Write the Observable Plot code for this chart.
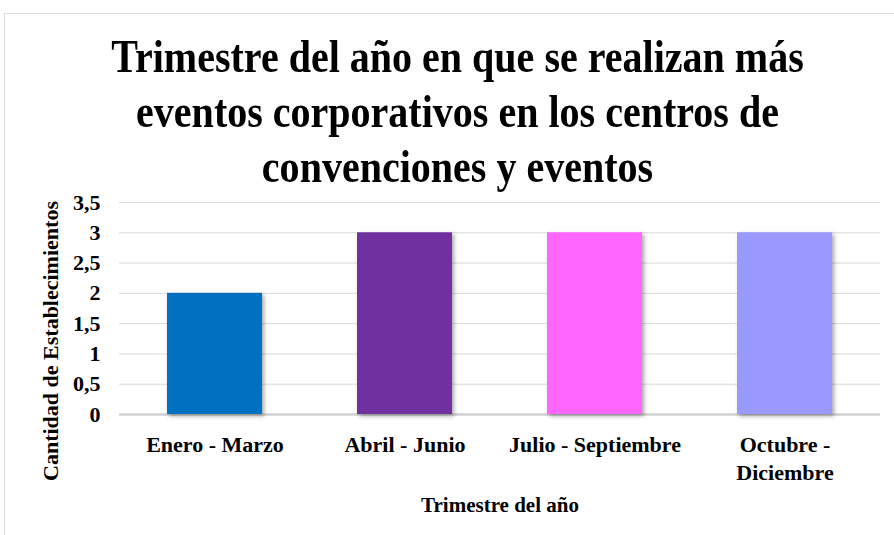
<!DOCTYPE html>
<html>
<head>
<meta charset="utf-8">
<script src="https://cdn.jsdelivr.net/npm/d3@7"></script>
<script src="https://cdn.jsdelivr.net/npm/@observablehq/plot@0.6"></script>
<style>
  html, body { margin: 0; padding: 0; background: #fff; width: 894px; height: 535px; overflow: hidden; }
  #wrap { position: relative; width: 894px; height: 535px; font-family: "Liberation Serif", "Times New Roman", serif; }
  #border { position: absolute; left: 4px; top: 13px; width: 920px; height: 600px; border: 1px solid #d9d9d9; box-sizing: border-box; }
  #title { position: absolute; left: 0; top: 29px; width: 915px; text-align: center; font-size: 46px; line-height: 55px; font-weight: bold; color: #000; margin: 0; transform: scaleX(0.87); transform-origin: 457.5px 0; }
  #ylabel { position: absolute; left: 51px; top: 341px; width: 0; height: 0; }
  #ylabel span { position: absolute; left: 0; top: 0; transform: translate(-50%, -50%) rotate(-90deg); white-space: nowrap; font-size: 22px; line-height: 22px; font-weight: bold; color: #000; }
  #chart { position: absolute; left: 0; top: 190px; }
</style>
</head>
<body>
<div id="wrap">
  <div id="border"></div>
  <h1 id="title">Trimestre del año en que se realizan más<br>eventos corporativos en los centros de<br>convenciones y eventos</h1>
  <div id="chart"></div>
  <div id="ylabel"><span id="ylabelText"></span></div>
</div>
<script>
const categories = ["Enero - Marzo", "Abril - Junio", "Julio - Septiembre", "Octubre -\nDiciembre"];
const values = [2, 3, 3, 3];
const colors = ["#0070C0", "#7030A0", "#FF66FF", "#9999FF"];
const yTicks = [0, 0.5, 1, 1.5, 2, 2.5, 3, 3.5];
const xTitle = "Trimestre del año";
const yTitle = "Cantidad de Establecimientos";

const data = categories.map((c, i) => ({cat: c, value: values[i]}));
const fmt = d => String(d).replace(".", ",");
const font = "Liberation Serif, Times New Roman, serif";

document.getElementById("ylabelText").textContent = yTitle;

const chart = Plot.plot({
  width: 894,
  height: 345,
  marginTop: 12,
  marginBottom: 121,
  marginLeft: 119,
  marginRight: 14,
  style: {fontFamily: font, background: "transparent", overflow: "visible"},
  x: {domain: categories, paddingInner: 0.5, paddingOuter: 0.25, axis: null},
  y: {domain: [0, 3.5], axis: null},
  color: {domain: categories, range: colors},
  marks: [
    Plot.ruleY(yTicks.filter(d => d > 0), {y: d => d, stroke: "#d9d9d9", strokeWidth: 1}),
    Plot.ruleY([0], {stroke: "#d0d0d0", strokeWidth: 2.5}),
    Plot.barY(data, {x: "cat", y: "value", fill: "cat"}),
    Plot.axisY(yTicks, {tickSize: 0, tickPadding: 19, tickFormat: fmt, fontSize: 22, fontWeight: "bold", fill: "#000", label: null}),
    Plot.text(categories, {x: d => d, frameAnchor: "bottom", lineAnchor: "top", dy: 18, lineHeight: 1.25, fontSize: 22, fontWeight: "bold", fill: "#000"}),
    Plot.text([xTitle], {frameAnchor: "bottom", lineAnchor: "bottom", dy: 97, fontSize: 21, fontWeight: "bold", fill: "#000"})
  ]
});
document.getElementById("chart").appendChild(chart);
const barG = chart.querySelector('g[aria-label="bar"]');
if (barG) barG.style.filter = "drop-shadow(2px 2px 2px rgba(0,0,0,0.35))";
</script>
</body>
</html>
